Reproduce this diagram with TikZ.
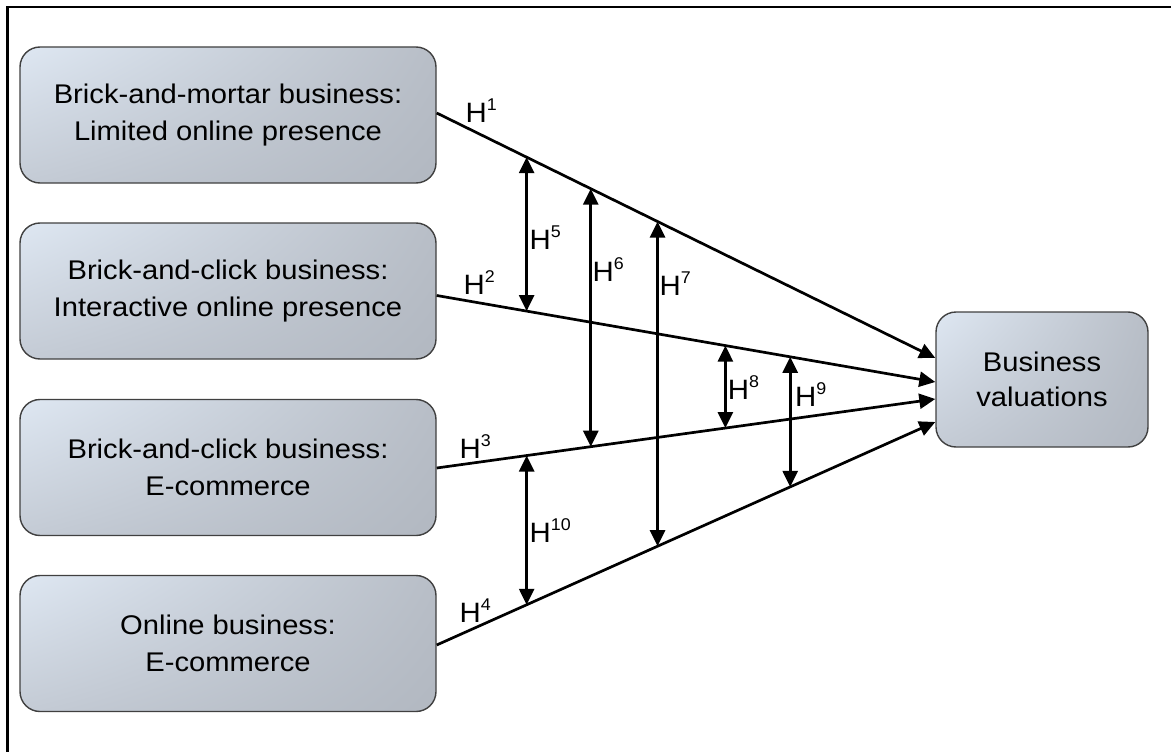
\documentclass[tikz,border=0pt]{standalone}
\usepackage{fontspec}
\setmainfont{Liberation Sans}
\usepackage{graphicx}
\usetikzlibrary{arrows.meta,calc,shadings}
\definecolor{ulc}{RGB}{222,231,242}
\definecolor{urc}{RGB}{184,190,199}
\definecolor{llc}{RGB}{196,203,213}
\definecolor{lrc}{RGB}{178,184,193}
\definecolor{boxline}{RGB}{64,64,64}
\newcommand\wt[1]{\scalebox{1.08}[1]{#1}}
\newcommand\hlab[1]{\scalebox{1.05}[1]{H\raisebox{12pt}{\fontsize{17}{17}\selectfont #1}}}
\begin{document}
\begin{tikzpicture}[x=1pt,y=-1pt,
  box/.style={draw=boxline, line width=1.4pt, rounded corners=20pt,
    minimum width=416pt, minimum height=136pt, inner sep=0pt, align=center,
    font=\fontsize{27}{36.5}\selectfont,
    upper left=ulc, upper right=urc, lower left=llc, lower right=lrc},
  link/.style={line width=2.7pt, -{Triangle[length=16pt,width=15pt]}},
  dbl/.style={line width=2.7pt, {Triangle[length=16pt,width=15pt]}-{Triangle[length=16pt,width=15pt]}},
  hl/.style={anchor=base west, inner sep=0pt, font=\fontsize{28}{30}\selectfont}]
\useasboundingbox (0,0) rectangle (1171,752);
% frame
\draw[line width=2.7pt] (7.2,752) -- (7.2,7) -- (1171,7);
% boxes
\node[box] (b1) at (228,115) {\wt{Brick-and-mortar business:}\\\wt{Limited online presence}};
\node[box] (b2) at (228,291) {\wt{Brick-and-click business:}\\\wt{Interactive online presence}};
\node[box] (b3) at (228,467.5) {\wt{Brick-and-click business:}\\\wt{E-commerce}};
\node[box] (b4) at (228,643.5) {\wt{Online business:}\\\wt{E-commerce}};
\node[box, minimum width=212pt, minimum height=135pt, font=\fontsize{27}{35}\selectfont] (bv) at (1042,379.5) {\wt{Business}\\\wt{valuations}};
% end points on target
\coordinate (e1) at ($(bv.west)+(0,-21.5)$);
\coordinate (e2) at ($(bv.west)+(0,2.5)$);
\coordinate (e3) at ($(bv.west)+(0,19.5)$);
\coordinate (e4) at ($(bv.west)+(0,42.5)$);
% main links
\draw[link] ($(b1.east)+(0,-2)$) -- coordinate[pos=.1804] (a5) coordinate[pos=.309] (a6) coordinate[pos=.443] (a7) (e1);
\draw[link] ($(b2.east)+(0,4.5)$) -- coordinate[pos=.1804] (b5) coordinate[pos=.579] (b8) coordinate[pos=.709] (b9) (e2);
\draw[link] ($(b3.east)+(0,0.5)$) -- coordinate[pos=.1804] (c10) coordinate[pos=.309] (c6) coordinate[pos=.579] (c8) (e3);
\draw[link] ($(b4.east)+(0,1.5)$) -- coordinate[pos=.1804] (d10) coordinate[pos=.443] (d7) coordinate[pos=.709] (d9) (e4);
% double arrows
\draw[dbl] (a5) -- (b5);
\draw[dbl] (a6) -- (c6);
\draw[dbl] (a7) -- (d7);
\draw[dbl] (b8) -- (c8);
\draw[dbl] (b9) -- (d9);
\draw[dbl] (c10) -- (d10);
% labels
\node[hl] (h1) at (465.4,122.7) {\hlab{1}};
\node[hl] (h2) at (463.4,294.3) {\hlab{2}};
\node[hl] (h3) at (459.4,458.3) {\hlab{3}};
\node[hl] (h4) at (459.4,622.3) {\hlab{4}};
\node[hl] (h5) at (529.4,249) {\hlab{5}};
\node[hl] (h6) at (592.5,281.5) {\hlab{6}};
\node[hl] (h7) at (659.4,295) {\hlab{7}};
\node[hl] (h8) at (727.7,399) {\hlab{8}};
\node[hl] (h9) at (795,406.7) {\hlab{9}};
\node[hl] (h10) at (529.4,542.3) {\hlab{10}};
\end{tikzpicture}
\end{document}
